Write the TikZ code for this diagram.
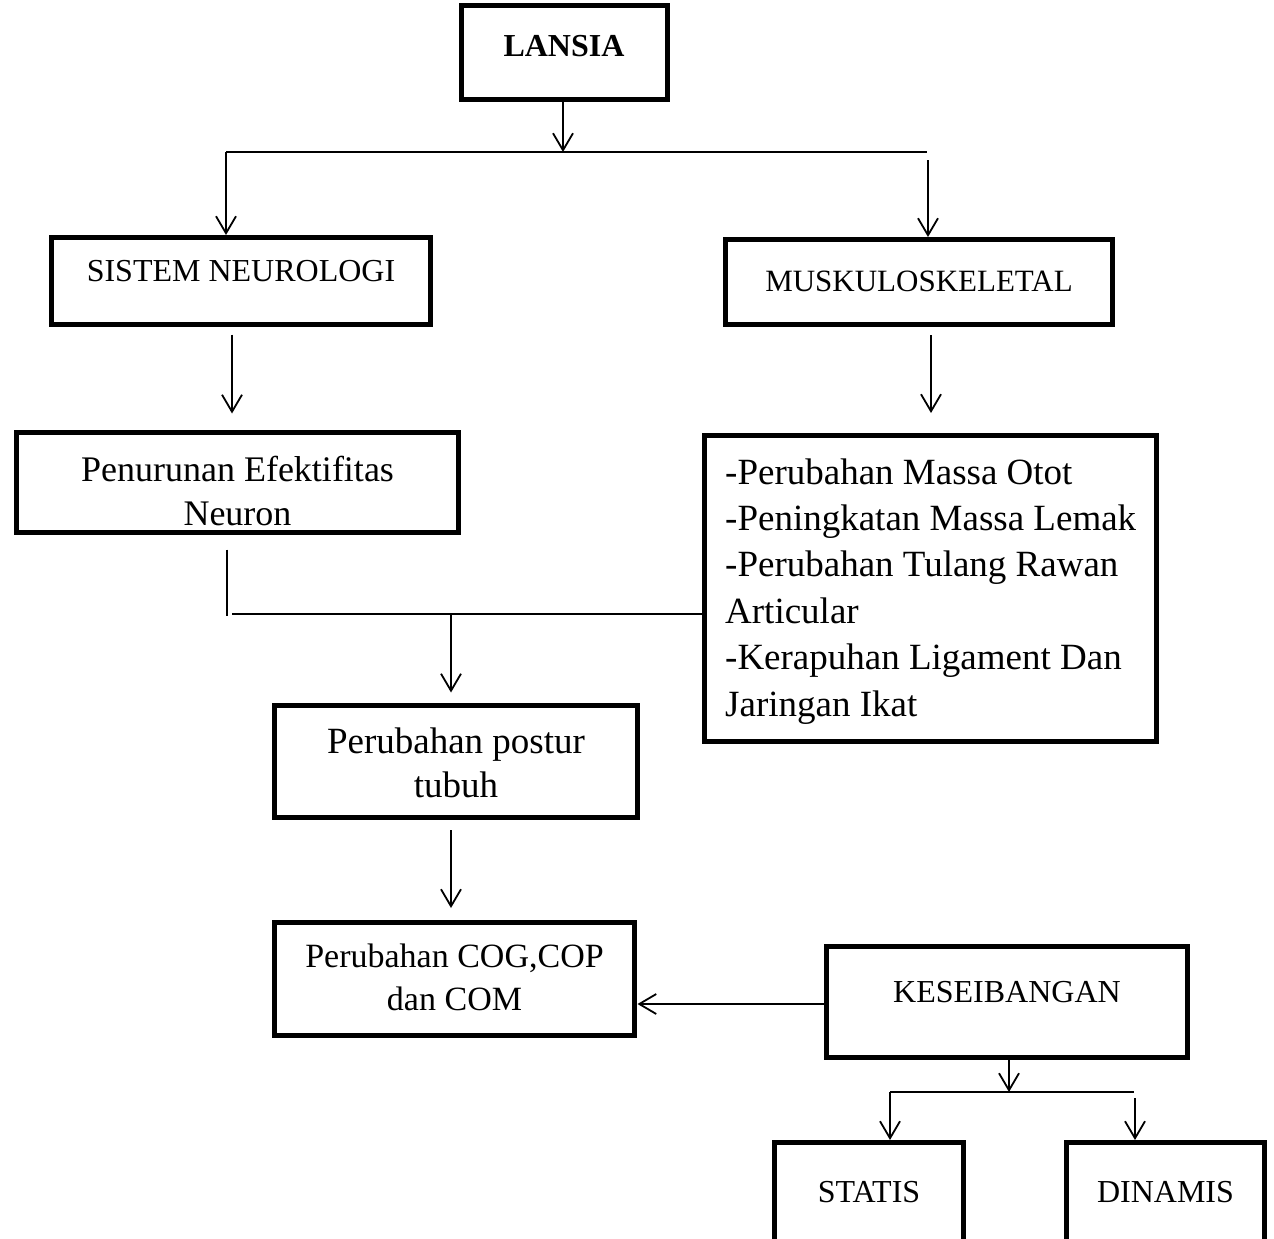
\documentclass[tikz,border=0pt]{standalone}
\usepackage{fontspec}
\setmainfont{Liberation Serif}
\usetikzlibrary{arrows.meta,calc}
\begin{document}
\begin{tikzpicture}[x=1pt,y=-1pt,
  box/.style={draw, line width=5pt, rectangle, inner sep=0pt, outer sep=0pt},
  conn/.style={line width=1.8pt},
  arr/.style={conn, -{Straight Barb[length=17pt,width=20pt,line width=1.8pt]}},
  capsA/.style={anchor=base, inner sep=0pt, font=\fontsize{32}{38}\selectfont},
  bodyA/.style={anchor=base, inner sep=0pt, font=\fontsize{36}{44}\selectfont},
  listA/.style={anchor=base west, inner sep=0pt, font=\fontsize{37}{44}\selectfont},
]
\useasboundingbox (0,0) rectangle (1274,1239);
\clip (0,0) rectangle (1274,1239);

% boxes
\node[box, minimum width=206, minimum height=93] (lansia) at (564,52.5) {};
\node[box, minimum width=379, minimum height=87] (sistem) at (241,281) {};
\node[box, minimum width=387, minimum height=85] (muskulo) at (919,282) {};
\node[box, minimum width=442, minimum height=100] (pen) at (237.5,482.5) {};
\node[box, minimum width=452, minimum height=306] (list) at (930.5,588.5) {};
\node[box, minimum width=363, minimum height=112] (postur) at (456,761.5) {};
\node[box, minimum width=360, minimum height=113] (cog) at (454.5,979) {};
\node[box, minimum width=361, minimum height=111] (kesei) at (1007,1002) {};
\node[box, minimum width=189, minimum height=157.5] (statis) at (869,1221.25) {};
\node[box, minimum width=198, minimum height=157.5] (dinamis) at (1165.5,1221.25) {};

% texts
\node[capsA, font=\fontsize{32}{38}\selectfont\bfseries] (tLansia) at (564,57) {LANSIA};
\node[capsA] (tSistem) at (241,281) {SISTEM NEUROLOGI};
\node[capsA, font=\fontsize{31}{38}\selectfont] (tMusk) at (919,291) {MUSKULOSKELETAL};
\node[bodyA] (tPen1) at (237.5,481) {Penurunan Efektifitas};
\node[bodyA] (tPen2) at (237.5,525) {Neuron};
\node[listA] (tL1) at (725,484) {-Perubahan Massa Otot};
\node[listA] (tL2) at (725,530) {-Peningkatan Massa Lemak};
\node[listA] (tL3) at (725,576) {-Perubahan Tulang Rawan};
\node[listA] (tL4) at (725,623) {Articular};
\node[listA] (tL5) at (725,669) {-Kerapuhan Ligament Dan};
\node[listA] (tL6) at (725,716) {Jaringan Ikat};
\node[bodyA, font=\fontsize{37}{44}\selectfont] (tPost1) at (456,753) {Perubahan postur};
\node[bodyA, font=\fontsize{37}{44}\selectfont] (tPost2) at (456,797) {tubuh};
\node[bodyA, font=\fontsize{34}{40}\selectfont] (tCog1) at (454.5,967) {Perubahan COG,COP};
\node[bodyA, font=\fontsize{34}{40}\selectfont] (tCog2) at (454.5,1010) {dan COM};
\node[capsA] (tKes) at (1007,1002) {KESEIBANGAN};
\node[capsA] (tSta) at (869,1202) {STATIS};
\node[capsA] (tDin) at (1165.5,1202) {DINAMIS};

% junction coordinates
\coordinate (jt) at (563,152);
\coordinate (jl) at (226,152);
\coordinate (jr) at (927,152);
\coordinate (jr2) at (928,160);
\coordinate (jp) at (227,616);
\coordinate (jh) at (232,614);
\coordinate (jd) at (451,614);
\coordinate (jk) at (1009,1092);
\coordinate (js) at (890,1092);
\coordinate (je) at (1134,1092);
\coordinate (jd3) at (1135,1098);

% connectors
\draw[arr] (lansia.south -| jt) -- (jt);
\draw[conn] (jl) -- (jr);
\draw[arr, shorten >=2.5pt] (jl) -- (jl |- sistem.north);
\draw[arr, shorten >=2.5pt] (jr2) -- (jr2 |- muskulo.north);
\draw[arr, shorten <=10pt, shorten >=19pt] ([xshift=-9pt]sistem.south) -- ([xshift=-5.5pt]pen.north);
\draw[arr, shorten <=10.5pt, shorten >=22.5pt] ([xshift=12pt]muskulo.south) -- ([xshift=0.5pt]list.north);
\draw[conn, shorten <=17pt] (pen.south -| jp) -- (jp);
\draw[conn] (jh) -- (list.west |- jh);
\draw[arr, shorten >=13pt] (jd) -- (jd |- postur.north);
\draw[arr, shorten <=12.5pt, shorten >=14.5pt] ([xshift=-5pt]postur.south) -- ([xshift=-3.5pt]cog.north);
\draw[arr, shorten >=3pt] ([yshift=-2pt]kesei.west) -- ([yshift=-25pt]cog.east);
\draw[arr] (kesei.south -| jk) -- (jk);
\draw[conn] (js) -- (je);
\draw[arr, shorten >=2.5pt] (js) -- (js |- statis.north);
\draw[arr, shorten >=2.5pt] (jd3) -- (jd3 |- dinamis.north);
\end{tikzpicture}
\end{document}
